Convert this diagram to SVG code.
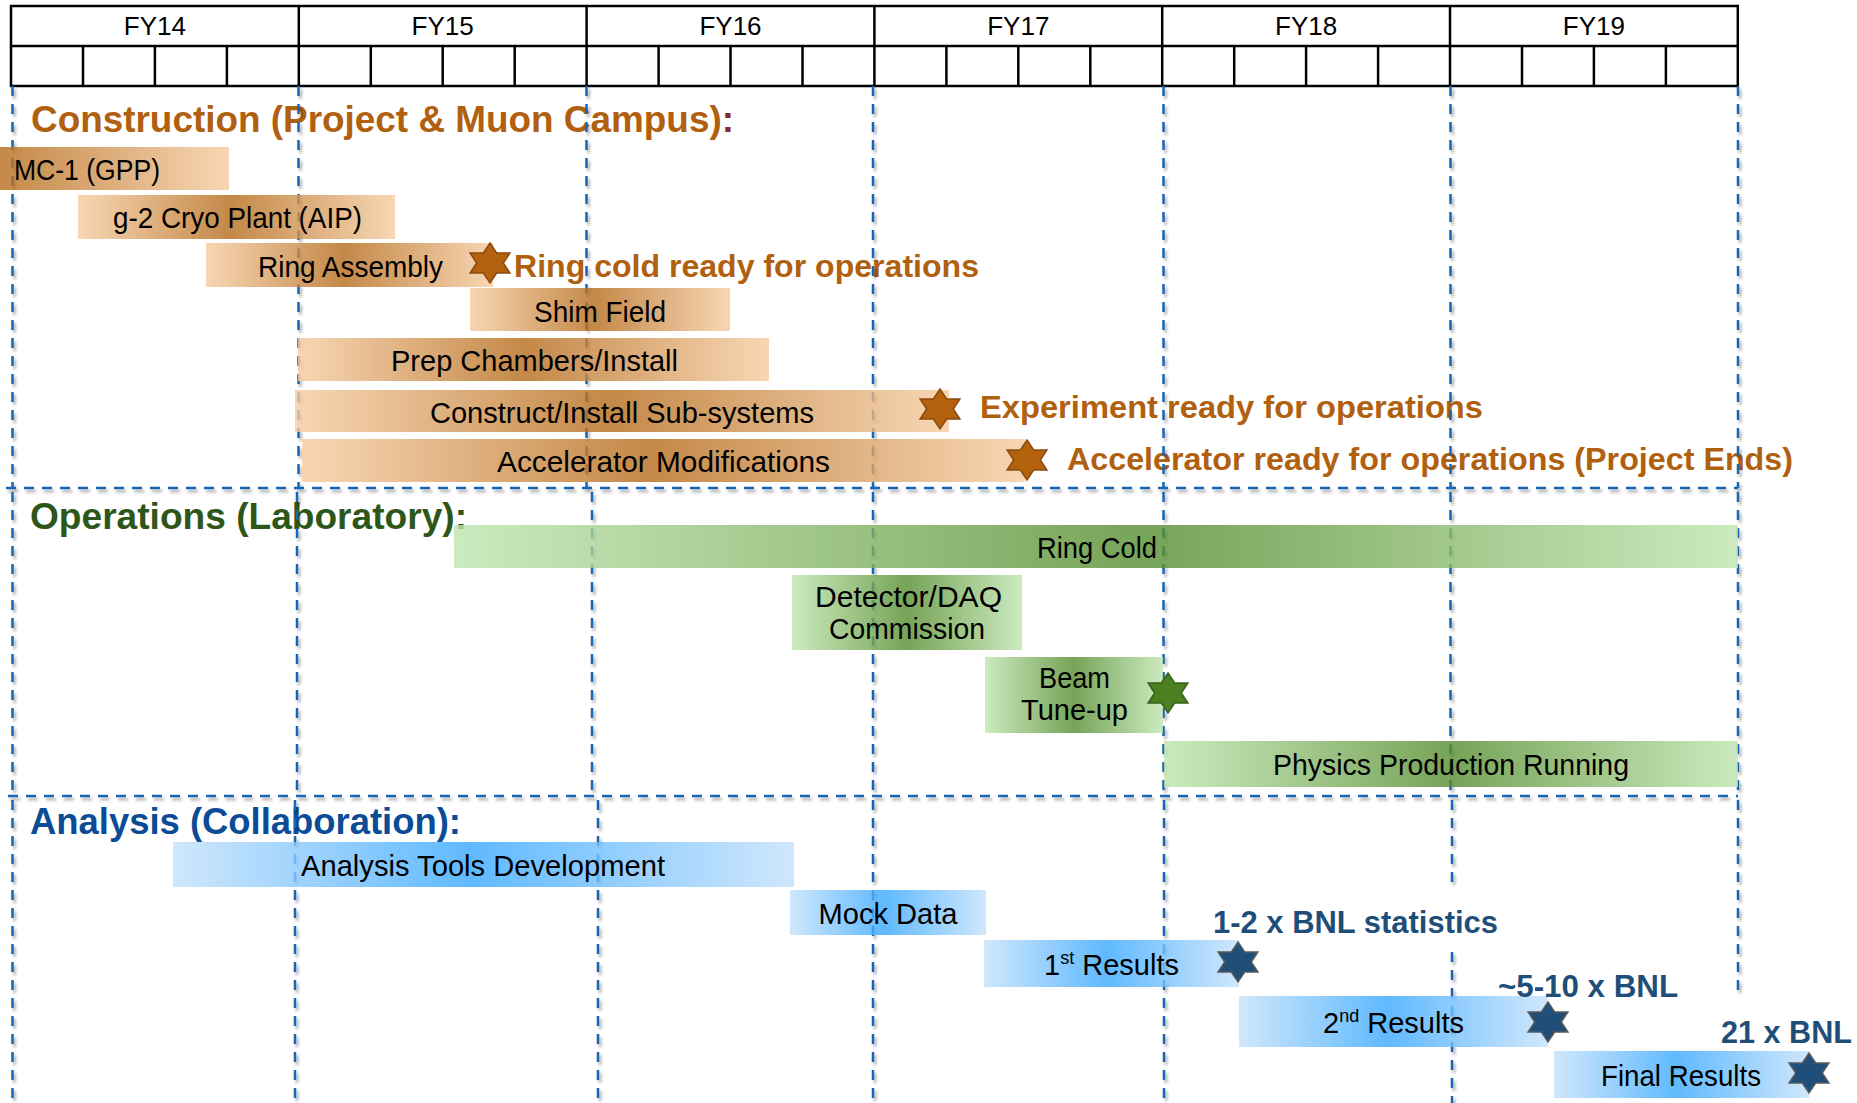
<svg xmlns="http://www.w3.org/2000/svg" width="1857" height="1103" viewBox="0 0 1857 1103">
<style>
text{font-family:"Liberation Sans",Arial,sans-serif}
.hdr{font-size:26px;fill:#000;text-anchor:middle}
.lbl{font-size:29px;fill:#000;text-anchor:middle}
.st{text-anchor:start}
.ttl{font-size:37px;font-weight:bold}
.ms{font-size:32px;font-weight:bold;fill:#B0600F}
.msb{font-size:31px;font-weight:bold;fill:#1F4E79}
.grid line{stroke:#1866B4;stroke-width:2.5;stroke-dasharray:10 8}
.tbl{fill:none;stroke:#000;stroke-width:2.5}
.bar{opacity:0.8}
.sb{fill:#B5620E;stroke:#8A4A10;stroke-width:1.5}
.sg{fill:#4B7F22;stroke:#37611A;stroke-width:1.5}
.sn{fill:#1F4E79;stroke:#5A5A5A;stroke-width:1.5}
</style>
<defs>
<linearGradient id="gBrown" x1="0" y1="0" x2="1" y2="0"><stop offset="0" stop-color="#F6CCA1"/><stop offset="0.48" stop-color="#B56B1A"/><stop offset="1" stop-color="#F6CCA1"/></linearGradient>
<linearGradient id="gBrownL" x1="0" y1="0" x2="1" y2="0"><stop offset="0" stop-color="#B56B1A"/><stop offset="1" stop-color="#F6CCA1"/></linearGradient>
<linearGradient id="gGreen" x1="0" y1="0" x2="1" y2="0"><stop offset="0" stop-color="#BFE5AE"/><stop offset="0.5" stop-color="#548D2E"/><stop offset="1" stop-color="#BFE5AE"/></linearGradient>
<linearGradient id="gGreenRC" x1="0" y1="0" x2="1" y2="0"><stop offset="0" stop-color="#BFE5AE"/><stop offset="0.54" stop-color="#548D2E"/><stop offset="1" stop-color="#BFE5AE"/></linearGradient>
<linearGradient id="gBlue" x1="0" y1="0" x2="1" y2="0"><stop offset="0" stop-color="#C4E1FB"/><stop offset="0.48" stop-color="#38A8FF"/><stop offset="1" stop-color="#C4E1FB"/></linearGradient>
<filter id="shadow" filterUnits="userSpaceOnUse" x="0" y="0" width="1857" height="1103"><feDropShadow dx="2" dy="3" stdDeviation="1.5" flood-color="#000" flood-opacity="0.35"/></filter>
<polygon id="star" points="0,-20 6.64,-10 19.9,-10 13.3,0 19.9,10 6.64,10 0,20 -6.64,10 -19.9,10 -13.3,0 -19.9,-10 -6.64,-10"/>
</defs>
<rect width="1857" height="1103" fill="#fff"/>

<g id="header">
<rect class="tbl" x="11" y="6" width="1726.8" height="80"/>
<g stroke="#000" stroke-width="2.5">
<line x1="11" y1="46" x2="1737.8" y2="46"/>
<line x1="298.8" y1="6" x2="298.8" y2="86"/><line x1="586.6" y1="6" x2="586.6" y2="86"/><line x1="874.4" y1="6" x2="874.4" y2="86"/><line x1="1162.2" y1="6" x2="1162.2" y2="86"/><line x1="1450" y1="6" x2="1450" y2="86"/>
<line x1="83" y1="46" x2="83" y2="86"/><line x1="154.9" y1="46" x2="154.9" y2="86"/><line x1="226.9" y1="46" x2="226.9" y2="86"/>
<line x1="370.8" y1="46" x2="370.8" y2="86"/><line x1="442.7" y1="46" x2="442.7" y2="86"/><line x1="514.7" y1="46" x2="514.7" y2="86"/>
<line x1="658.6" y1="46" x2="658.6" y2="86"/><line x1="730.5" y1="46" x2="730.5" y2="86"/><line x1="802.5" y1="46" x2="802.5" y2="86"/>
<line x1="946.4" y1="46" x2="946.4" y2="86"/><line x1="1018.3" y1="46" x2="1018.3" y2="86"/><line x1="1090.3" y1="46" x2="1090.3" y2="86"/>
<line x1="1234.2" y1="46" x2="1234.2" y2="86"/><line x1="1306.1" y1="46" x2="1306.1" y2="86"/><line x1="1378.1" y1="46" x2="1378.1" y2="86"/>
<line x1="1522" y1="46" x2="1522" y2="86"/><line x1="1593.9" y1="46" x2="1593.9" y2="86"/><line x1="1665.9" y1="46" x2="1665.9" y2="86"/>
</g>
<text class="hdr" x="154.9" y="35">FY14</text>
<text class="hdr" x="442.7" y="35">FY15</text>
<text class="hdr" x="730.5" y="35">FY16</text>
<text class="hdr" x="1018.3" y="35">FY17</text>
<text class="hdr" x="1306.1" y="35">FY18</text>
<text class="hdr" x="1593.9" y="35">FY19</text>
</g>

<g id="titles">
<text id="t-construction" class="ttl" x="31" y="132" fill="#B0600F" textLength="703" lengthAdjust="spacingAndGlyphs">Construction (Project &amp; Muon Campus)<tspan fill="#832C2C">:</tspan></text>
<text id="t-operations" class="ttl" x="30" y="529" fill="#2D5719" textLength="437" lengthAdjust="spacingAndGlyphs">Operations (Laboratory):</text>
<text id="t-analysis" class="ttl" x="30" y="834" fill="#0A4D96" textLength="431" lengthAdjust="spacingAndGlyphs">Analysis (Collaboration):</text>
</g>

<g id="milestone-text-construction">
<text class="ms" x="514" y="277" textLength="465" lengthAdjust="spacingAndGlyphs">Ring cold ready for operations</text>
<text class="ms" x="980" y="418" textLength="503" lengthAdjust="spacingAndGlyphs">Experiment ready for operations</text>
<text class="ms" x="1067" y="470" textLength="726" lengthAdjust="spacingAndGlyphs">Accelerator ready for operations (Project Ends)</text>
</g>

<g id="gridlines" class="grid" filter="url(#shadow)">
<line x1="12.5" y1="86" x2="12.5" y2="488"/><line x1="298.5" y1="86" x2="298.5" y2="488"/><line x1="586.5" y1="86" x2="586.5" y2="488"/><line x1="873" y1="86" x2="873" y2="488"/><line x1="1163.5" y1="86" x2="1163.5" y2="488"/><line x1="1450.5" y1="86" x2="1450.5" y2="488"/><line x1="1738" y1="86" x2="1738" y2="488"/>
<line x1="6" y1="488" x2="1738" y2="488"/>
<line x1="12.5" y1="492" x2="12.5" y2="796"/><line x1="297" y1="492" x2="297" y2="796"/><line x1="592" y1="492" x2="592" y2="796"/><line x1="873" y1="492" x2="873" y2="796"/><line x1="1163.5" y1="492" x2="1163.5" y2="796"/><line x1="1450.5" y1="492" x2="1450.5" y2="796"/><line x1="1738" y1="492" x2="1738" y2="796"/>
<line x1="8" y1="796" x2="1738" y2="796"/>
<line x1="12.5" y1="800" x2="12.5" y2="1103"/><line x1="295" y1="800" x2="295" y2="1103"/><line x1="598" y1="800" x2="598" y2="1103"/><line x1="873" y1="800" x2="873" y2="1103"/><line x1="1164" y1="800" x2="1164" y2="1103"/><line x1="1452" y1="800" x2="1452" y2="887"/><line x1="1452" y1="952" x2="1452" y2="1103"/><line x1="1738" y1="800" x2="1738" y2="995"/>
</g>

<g id="mc1"><rect class="bar" x="0" y="147" width="229" height="43" fill="url(#gBrownL)"/><text class="lbl st" x="14" y="180" textLength="146" lengthAdjust="spacingAndGlyphs">MC-1 (GPP)</text></g>
<g id="cryo"><rect class="bar" x="78" y="195" width="317" height="44" fill="url(#gBrown)"/><text class="lbl" x="237.5" y="228" textLength="249" lengthAdjust="spacingAndGlyphs">g-2 Cryo Plant (AIP)</text></g>
<g id="ring-assembly"><rect class="bar" x="206" y="243" width="287" height="44" fill="url(#gBrown)"/><text class="lbl" x="350.5" y="277" textLength="185" lengthAdjust="spacingAndGlyphs">Ring Assembly</text></g>
<g id="shim"><rect class="bar" x="470" y="288" width="260" height="43" fill="url(#gBrown)"/><text class="lbl" x="600" y="322" textLength="132" lengthAdjust="spacingAndGlyphs">Shim Field</text></g>
<g id="prep"><rect class="bar" x="298" y="338" width="471" height="43" fill="url(#gBrown)"/><text class="lbl" x="534.5" y="371" textLength="287" lengthAdjust="spacingAndGlyphs">Prep Chambers/Install</text></g>
<g id="construct"><rect class="bar" x="295" y="390" width="654" height="42" fill="url(#gBrown)"/><text class="lbl" x="622" y="422.5" textLength="384" lengthAdjust="spacingAndGlyphs">Construct/Install Sub-systems</text></g>
<g id="accel"><rect class="bar" x="302" y="439" width="723" height="43" fill="url(#gBrown)"/><text class="lbl" x="663.5" y="472" textLength="333" lengthAdjust="spacingAndGlyphs">Accelerator Modifications</text></g>

<g id="ring-cold"><rect class="bar" x="454" y="525" width="1284" height="43" fill="url(#gGreenRC)"/><text class="lbl" x="1097" y="558" textLength="120" lengthAdjust="spacingAndGlyphs">Ring Cold</text></g>
<g id="detector"><rect class="bar" x="792" y="575" width="230" height="75" fill="url(#gGreen)"/><text class="lbl" x="908.5" y="607" textLength="187" lengthAdjust="spacingAndGlyphs">Detector/DAQ</text><text class="lbl" x="907" y="639" textLength="156" lengthAdjust="spacingAndGlyphs">Commission</text></g>
<g id="beam"><rect class="bar" x="985" y="657" width="178" height="76" fill="url(#gGreen)"/><text class="lbl" x="1074.5" y="688" textLength="71" lengthAdjust="spacingAndGlyphs">Beam</text><text class="lbl" x="1074.5" y="720" textLength="107" lengthAdjust="spacingAndGlyphs">Tune-up</text></g>
<g id="physics"><rect class="bar" x="1164" y="741" width="574" height="46" fill="url(#gGreen)"/><text class="lbl" x="1451" y="775" textLength="356" lengthAdjust="spacingAndGlyphs">Physics Production Running</text></g>

<g id="analysis-tools"><rect class="bar" x="173" y="842" width="621" height="45" fill="url(#gBlue)"/><text class="lbl" x="483" y="876" textLength="364" lengthAdjust="spacingAndGlyphs">Analysis Tools Development</text></g>
<g id="mock"><rect class="bar" x="790" y="890" width="196" height="45" fill="url(#gBlue)"/><text class="lbl" x="888" y="924" textLength="139" lengthAdjust="spacingAndGlyphs">Mock Data</text></g>
<g id="first"><rect class="bar" x="984" y="940" width="255" height="47" fill="url(#gBlue)"/><text class="lbl" x="1111.5" y="975">1<tspan font-size="18" dy="-11">st</tspan><tspan dy="11"> Results</tspan></text></g>
<g id="second"><rect class="bar" x="1239" y="996" width="309" height="51" fill="url(#gBlue)"/><text class="lbl" x="1393.5" y="1033">2<tspan font-size="18" dy="-11">nd</tspan><tspan dy="11"> Results</tspan></text></g>
<g id="final"><rect class="bar" x="1554" y="1051" width="255" height="47" fill="url(#gBlue)"/><text class="lbl" x="1681" y="1086" textLength="160" lengthAdjust="spacingAndGlyphs">Final Results</text></g>

<g id="stars">
<use href="#star" class="sb" x="490" y="263"/>
<use href="#star" class="sb" x="940" y="409"/>
<use href="#star" class="sb" x="1027" y="460"/>
<use href="#star" class="sg" x="1168" y="693"/>
<use href="#star" class="sn" x="1238" y="962"/>
<use href="#star" class="sn" x="1548" y="1022"/>
<use href="#star" class="sn" x="1809" y="1073"/>
</g>

<g id="milestone-text-analysis">
<text class="msb" x="1213" y="933" textLength="285" lengthAdjust="spacingAndGlyphs">1-2 x BNL statistics</text>
<text class="msb" x="1498" y="997" textLength="180" lengthAdjust="spacingAndGlyphs">~5-10 x BNL</text>
<text class="msb" x="1721" y="1043" textLength="131" lengthAdjust="spacingAndGlyphs">21 x BNL</text>
</g>
</svg>
